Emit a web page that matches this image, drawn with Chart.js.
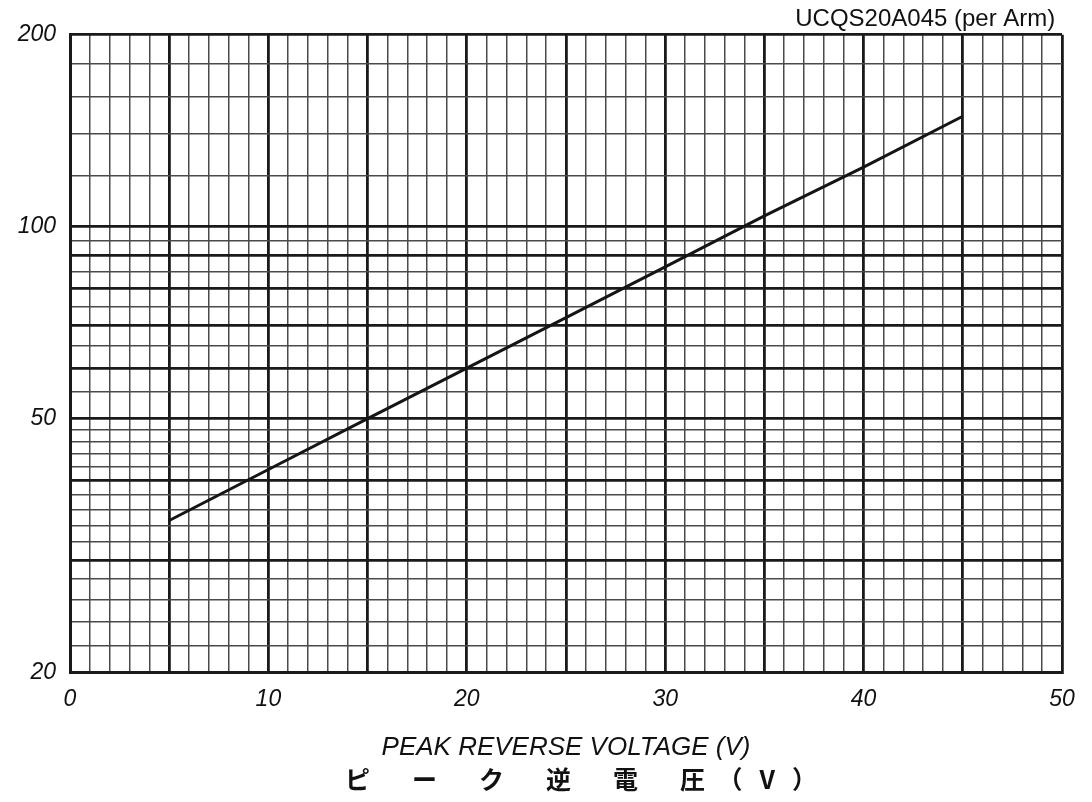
<!DOCTYPE html>
<html>
<head>
<meta charset="utf-8">
<script src="https://cdn.jsdelivr.net/npm/chart.js@4.4.0/dist/chart.umd.min.js"></script>
<style>
  html, body { margin: 0; padding: 0; background: #fff; }
</style>
</head>
<body>
<canvas id="cap-chart" width="1092" height="802"></canvas>
<script>
const ctx = document.getElementById('cap-chart').getContext('2d');

// values (V, per arm)
let voltageArray = [5, 10, 15, 20, 25, 30, 35, 40, 45];
let capArray = [34.6, 41.6, 50, 60, 72, 86.5, 104, 124, 149];

// graph paper lines
let yGridArray = [20, 22, 24, 26, 28, 30, 32, 34, 36, 38, 40, 42, 44, 46, 48, 50,
                  55, 60, 65, 70, 75, 80, 85, 90, 95, 100, 120, 140, 160, 180, 200];
let yHeavyArray = [20, 30, 40, 50, 60, 70, 80, 90, 100, 200];
let yLabelArray = [20, 50, 100, 200];
let xLabelArray = [0, 10, 20, 30, 40, 50];

const tickFont = { family: 'Liberation Sans', size: 23, style: 'italic' };

let capChart = new Chart(ctx, {
    type: 'line',
    data: {
        datasets: [{
            data: voltageArray.map((v, i) => ({ x: v, y: capArray[i] })),
            borderColor: '#151515',
            borderWidth: 3,
            pointRadius: 0,
            tension: 0
        }]
    },
    options: {
        responsive: false,
        animation: false,
        devicePixelRatio: 1,
        layout: { padding: { left: 0, right: 30, top: 0, bottom: 0 } },
        scales: {
            x: {
                type: 'linear',
                min: 0,
                max: 50,
                ticks: {
                    stepSize: 1,
                    autoSkip: false,
                    maxRotation: 0,
                    padding: 14,
                    color: '#111',
                    font: tickFont,
                    callback: v => xLabelArray.includes(v) ? String(v) : ''
                },
                grid: {
                    drawTicks: false,
                    color: c => c.tick.value % 5 === 0 ? '#1a1a1a' : '#4a4a4a',
                    lineWidth: c => c.tick.value % 5 === 0 ? 2.8 : 1.5
                },
                border: { display: true, color: '#1a1a1a', width: 3 },
                title: {
                    display: true,
                    text: 'PEAK REVERSE VOLTAGE (V)',
                    color: '#111',
                    font: { family: 'Liberation Sans', size: 26, style: 'italic' },
                    padding: { top: 4, bottom: 0 }
                }
            },
            y: {
                type: 'logarithmic',
                min: 20,
                max: 200,
                afterBuildTicks: scale => {
                    scale.ticks = yGridArray.map(v => ({ value: v }));
                },
                afterFit: scale => { scale.width = 70; },
                ticks: {
                    autoSkip: false,
                    padding: 14,
                    color: '#111',
                    font: tickFont,
                    callback: v => yLabelArray.includes(v) ? String(v) : ''
                },
                grid: {
                    drawTicks: false,
                    color: c => yHeavyArray.includes(c.tick.value) ? '#1a1a1a' : '#4a4a4a',
                    lineWidth: c => yHeavyArray.includes(c.tick.value) ? 2.8 : 1.5
                },
                border: { display: true, color: '#1a1a1a', width: 3 }
            }
        },
        plugins: {
            legend: { display: false },
            tooltip: { enabled: false },
            subtitle: {
                display: true,
                position: 'top',
                align: 'end',
                text: 'UCQS20A045 (per Arm) ',
                color: '#111',
                font: { family: 'Liberation Sans', size: 24 },
                padding: { top: 5, bottom: 1 }
            },
            title: {
                display: true,
                position: 'bottom',
                text: '\u3000\u3000\u3000\u3000ピ\u3000   ー\u3000   ク\u3000   逆\u3000   電\u3000   圧\u3000（   V   ）',
                color: '#111',
                font: { family: 'Noto Sans CJK JP', size: 25, weight: 'bold' },
                padding: { top: 1, bottom: 8 }
            }
        }
    }
});
</script>
</body>
</html>
